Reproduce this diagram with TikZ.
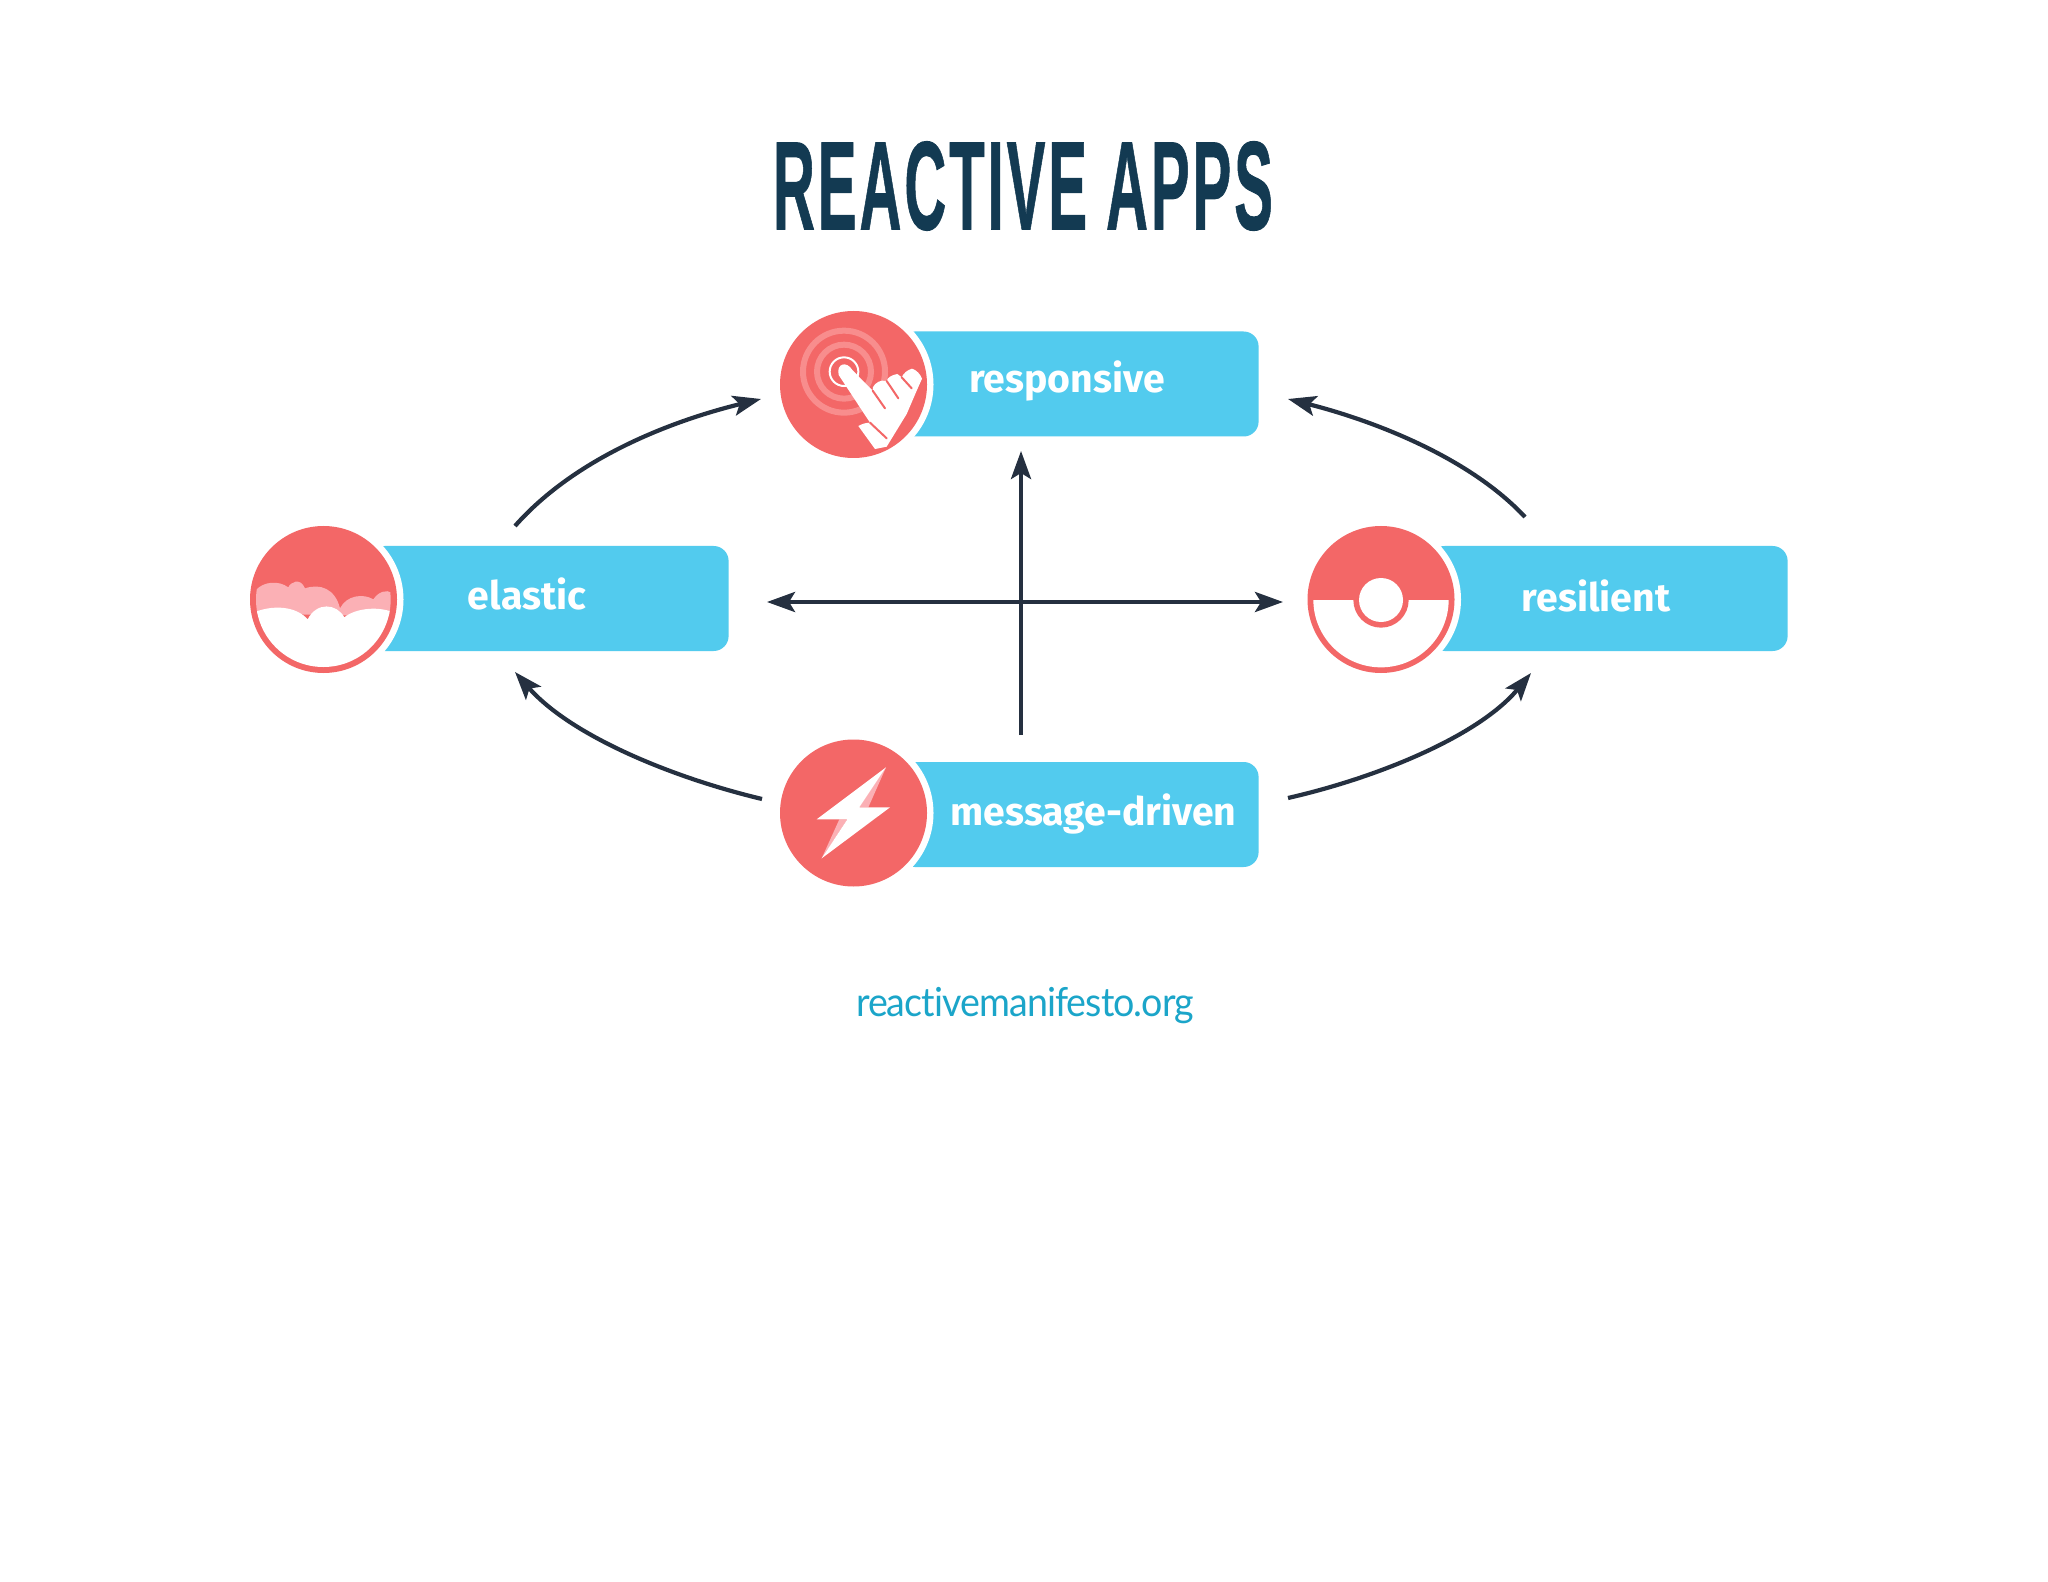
\documentclass[tikz,border=0pt]{standalone}
\usepackage{fontspec}
\setmainfont{Fira Sans}
\newfontfamily\titlefont[FakeBold=0.8,LetterSpace=5]{Liberation Sans}
\newfontfamily\sitefont[Ligatures=NoCommon,LetterSpace=-2.5]{Lato}
\usetikzlibrary{arrows.meta}
\definecolor{coral}{HTML}{F36767}
\definecolor{pinklite}{HTML}{FBB0B5}
\definecolor{ringa}{HTML}{F88D8D}
\definecolor{skybar}{HTML}{52CBEE}
\definecolor{navy}{HTML}{133A52}
\definecolor{linkblue}{HTML}{1BA5C9}
\definecolor{inkline}{HTML}{253040}
\tikzset{
  iconhalo/.style={circle,fill=white,inner sep=0pt,minimum size=80pt},
  iconcirc/.style={circle,fill=coral,inner sep=0pt,minimum size=73.5pt},
  barbox/.style={fill=skybar,rounded corners=7.5pt,inner sep=0pt,minimum height=52.5pt,anchor=east},
  barlabel/.style={text=white,font=\fontsize{19.6}{24}\selectfont\bfseries,anchor=base,inner sep=0pt},
  headtip/.tip={Stealth[length=14pt,width=10pt,inset=3pt]},
  conn/.style={draw=inkline,line width=2.1pt,-headtip},
  zoomed/.style={x=0.16667pt,y=-0.16667pt}
}
\begin{document}
\begin{tikzpicture}[x=0.5pt,y=-0.5pt]
\useasboundingbox (0,0) rectangle (2048,1582);
\fill[white] (0,0) rectangle (2048,1582);

% title
\node[text=navy,inner sep=0pt] (title) at (1023,186)
  {\resizebox{250pt}{44pt}{\titlefont\bfseries REACTIVE APPS}};

% bars
\node[barbox,minimum width=179.5pt] (barr) at (1259,384) {};
\node[barbox,minimum width=179.5pt] (bare) at (729,598.5) {};
\node[barbox,minimum width=179pt] (bars) at (1788,598.5) {};
\node[barbox,minimum width=179.5pt] (barm) at (1259,814.5) {};

% icon circles
\node[iconhalo] (halor) at (853.5,384.5) {};
\node[iconhalo] (haloe) at (323.5,599.5) {};
\node[iconhalo] (halos) at (1381,599.5) {};
\node[iconhalo] (halom) at (853.5,813) {};
\node[iconcirc] (iconr) at (853.5,384.5) {};
\node[iconcirc] (icone) at (323.5,599.5) {};
\node[iconcirc] (icons) at (1381,599.5) {};
\node[iconcirc] (iconm) at (853.5,813) {};

% responsive icon: rings and hand
\begin{scope}[shift={(790,320)},zoomed]
  \draw[ringa,line width=3pt] (162,155) circle (123);
  \draw[ringa,line width=3pt] (162,155) circle (81);
  \draw[white,line width=1pt] (162,155) circle (43);
  \fill[white]
    (146,165) .. controls (138,130) and (170,122) .. (187,150)
    -- (248,212) .. controls (244,198) and (262,184) .. (276,182) -- (290,183)
    .. controls (292,172) and (306,165) .. (322,162) -- (335,172)
    .. controls (340,160) and (352,150) .. (366,146) .. controls (380,150) and (392,164) .. (396,176)
    -- (380,212) -- (350,282) -- (290,380) -- (255,387)
    -- (205,318) .. controls (215,312) and (228,308) .. (240,308) -- cycle;
  \draw[coral,line width=1pt,line cap=round] (248,212) -- (285,265);
  \draw[coral,line width=1pt,line cap=round] (290,183) -- (325,235);
  \draw[coral,line width=1pt,line cap=round] (335,172) -- (365,205);
  \draw[coral,line width=1pt,line cap=round] (240,308) -- (290,355);
\end{scope}

% elastic icon: clouds
\begin{scope}[shift={(240,510)},zoomed]
  \begin{scope}
    \clip (250,269) circle (202);
    \fill[pinklite] (40,310) -- (48,240) .. controls (70,215) and (115,210) .. (145,232)
      .. controls (150,218) and (180,200) .. (195,235)
      .. controls (240,220) and (285,235) .. (300,295)
      .. controls (320,255) and (370,250) .. (400,268)
      .. controls (415,245) and (440,238) .. (455,248) -- (470,320) -- cycle;
    \fill[white] (30,312) .. controls (100,280) and (170,290) .. (203,328)
      .. controls (230,275) and (290,280) .. (313,322)
      .. controls (345,295) and (420,285) .. (470,312)
      -- (470,490) -- (30,490) -- cycle;
  \end{scope}
\end{scope}

% resilient icon
\begin{scope}[shift={(1290,510)},zoomed]
  \begin{scope}
    \clip (273,269) circle (203);
    \fill[white] (60,270) rectangle (490,490);
  \end{scope}
  \fill[coral] (273,270) circle (83);
  \fill[white] (273,270) circle (66);
\end{scope}

% message-driven icon: bolt
\begin{scope}[shift={(760,730)},zoomed]
  \fill[pinklite] (378,112) -- (325,232) -- (298,232) -- cycle;
  \fill[pinklite] (185,385) -- (238,268) -- (262,268) -- cycle;
  \fill[white] (378,112) -- (298,232) -- (390,232) -- (185,385) -- (262,268) -- (170,268) -- cycle;
\end{scope}

% labels
\node[barlabel] (lblr) at (1067,393) {responsive};
\node[barlabel] (lble) at (527,610) {elastic};
\node[barlabel] (lbls) at (1596,611) {resilient};
\node[barlabel] (lblm) at (1093.5,825) {message-driven};

% footer
\node[text=linkblue,anchor=base,inner sep=0pt,font=\fontsize{20}{24}\selectfont] (site) at (1025,1016)
  {\scalebox{0.94}[1]{\sitefont reactivemanifesto.org}};

% connector end points
\coordinate (ers) at (515,526);   \coordinate (ert) at (761,399);
\coordinate (srs) at (1525,517);  \coordinate (srt) at (1288,399);
\coordinate (mes) at (762,799);   \coordinate (met) at (515,672);
\coordinate (mss) at (1288,798);  \coordinate (mst) at (1531,673);
\coordinate (hl) at (767,602);    \coordinate (hr) at (1283,602);
\coordinate (vb) at (1021,735);   \coordinate (vt) at (1021,451);

\draw[conn] (ers) .. controls (575,458) and (671,421) .. (ert);
\draw[conn] (srs) .. controls (1470,458) and (1375,421) .. (srt);
\draw[conn] (mes) .. controls (670,777) and (570,735) .. (met);
\draw[conn] (mss) .. controls (1380,777) and (1480,735) .. (mst);
\draw[conn,headtip-headtip] (hl) -- (hr);
\draw[conn] (vb) -- (vt);
\end{tikzpicture}
\end{document}
